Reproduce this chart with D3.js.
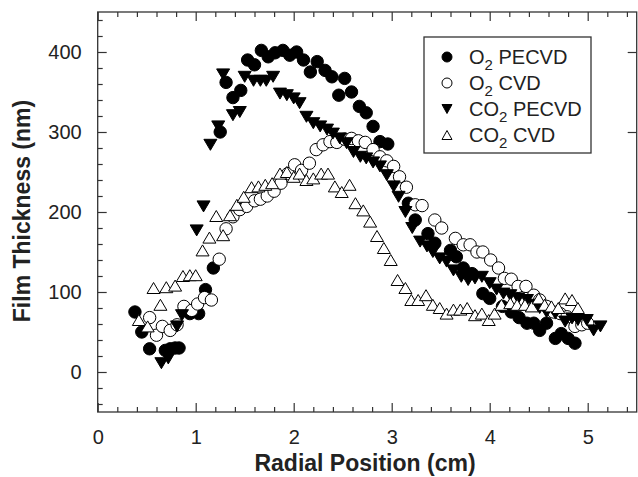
<!DOCTYPE html>
<html>
<head>
<meta charset="utf-8">
<script src="https://d3js.org/d3.v7.min.js"></script>
<style>
body { margin: 0; background: #fff; }
</style>
</head>
<body>
<svg id="chart" width="638" height="477"></svg>
<script>
// tick labels
const xTicks = [0, 1, 2, 3, 4, 5];
const yTicks = [0, 100, 200, 300, 400];

// legend names: [main, subscript, rest]
const seriesNames = [["O", "2", " PECVD"], ["O", "2", " CVD"], ["CO", "2", " PECVD"], ["CO", "2", " CVD"]];

// O2 PECVD (filled circles)
const o2PecvdX = [0.38,0.45,0.53,0.69,0.74,0.79,0.83,0.94,1.03,1.10,1.18,1.25,1.31,1.38,1.46,1.53,1.60,1.67,1.74,1.81,1.89,1.96,2.03,2.10,2.17,2.24,2.32,2.39,2.46,2.52,2.59,2.67,2.74,2.81,2.88,2.96,3.17,3.24,3.37,3.44,3.60,3.66,3.73,3.82,3.93,4.00,4.13,4.22,4.30,4.38,4.45,4.51,4.58,4.67,4.73,4.80,4.87];
const o2PecvdY = [75,50,29,27,29,30,30,73,73,103,130,300,362,343,352,390,384,402,394,399,402,396,400,390,375,388,377,369,346,367,350,332,324,307,288,285,211,190,173,161,152,144,130,123,98,92,82,75,68,61,61,52,61,42,48,42,36];

// O2 CVD (open circles)
const o2CvdX = [0.53,0.60,0.66,0.74,0.81,0.88,0.96,1.02,1.09,1.16,1.24,1.31,1.38,1.45,1.52,1.60,1.66,1.73,1.80,1.87,1.94,2.01,2.08,2.16,2.23,2.30,2.37,2.44,2.52,2.59,2.66,2.73,2.81,2.88,2.95,3.02,3.08,3.15,3.24,3.31,3.44,3.51,3.65,3.73,3.80,3.87,3.93,4.01,4.09,4.15,4.22,4.29,4.37,4.45,4.51,4.58,4.65,4.72,4.79,4.87,4.94,5.00];
const o2CvdY = [68,46,57,52,59,82,77,85,93,90,141,179,194,203,207,214,216,220,226,236,248,259,252,261,278,284,288,287,291,292,289,287,278,269,264,257,244,231,209,208,190,180,167,159,159,150,150,140,130,117,116,107,107,96,90,82,75,73,69,57,59,61];

// CO2 PECVD (filled down triangles)
const co2PecvdX = [0.65,0.72,0.81,0.86,1.01,1.08,1.15,1.23,1.28,1.38,1.45,1.50,1.59,1.66,1.72,1.79,1.86,1.93,2.00,2.06,2.13,2.20,2.27,2.34,2.40,2.47,2.54,2.61,2.68,2.74,2.81,2.88,2.95,3.02,3.07,3.14,3.21,3.29,3.36,3.42,3.49,3.56,3.63,3.71,3.78,3.85,3.92,4.00,4.07,4.14,4.21,4.29,4.38,4.45,4.51,4.58,4.67,4.77,4.84,4.90,4.99,5.06,5.13];
const co2PecvdY = [11,17,57,71,177,207,284,307,372,321,325,369,364,364,364,369,348,346,342,336,319,311,307,303,298,292,286,275,269,267,262,257,246,232,219,200,180,163,157,150,142,138,127,119,115,117,119,111,103,98,96,92,90,84,80,75,73,63,67,65,65,52,57];

// CO2 CVD (open up triangles)
const co2CvdX = [0.42,0.51,0.57,0.64,0.70,0.79,0.87,0.94,1.00,1.07,1.14,1.21,1.28,1.35,1.42,1.49,1.57,1.64,1.71,1.78,1.86,1.93,2.00,2.06,2.13,2.20,2.28,2.35,2.42,2.49,2.57,2.63,2.71,2.78,2.85,2.92,2.99,3.06,3.14,3.20,3.27,3.35,3.42,3.49,3.56,3.63,3.70,3.77,3.85,3.92,3.99,4.05,4.12,4.21,4.28,4.36,4.43,4.50,4.56,4.63,4.70,4.77,4.84,4.90];
const co2CvdY = [65,57,105,84,106,108,120,121,121,152,168,195,171,196,209,219,231,232,234,236,248,250,244,248,240,242,248,248,232,225,234,211,202,188,170,155,140,115,105,90,90,96,84,80,73,78,78,80,71,73,65,73,84,86,84,84,82,92,84,82,80,92,90,80];

const svg = d3.select('#chart');
const font = 'Arial, "Liberation Sans", sans-serif';

const xs = d3.scaleLinear().domain([0, 5.5]).range([97.7, 636.7]);
const ys = d3.scaleLinear().domain([-50, 450]).range([412, 12]);

const xMinor = d3.range(0.2, 5.5, 0.2).filter(d => Math.abs(d - Math.round(d)) > 0.01);
const yMinor = d3.range(-40, 450, 20).filter(d => d % 100 != 0);

function styleAxis(g) {
  g.select('.domain').remove();
  g.attr('font-family', font).attr('font-size', 20);
  g.selectAll('line').attr('stroke', '#333').attr('stroke-width', 1.2);
  g.selectAll('text').attr('fill', '#222');
}

// bottom
svg.append('g').attr('transform', 'translate(0,412)')
  .call(d3.axisBottom(xs).tickValues(xTicks).tickSize(-9).tickPadding(18).tickFormat(d3.format('d')))
  .call(styleAxis);
svg.append('g').attr('transform', 'translate(0,412)')
  .call(d3.axisBottom(xs).tickValues(xMinor).tickSize(-5).tickFormat(''))
  .call(styleAxis);
// top
svg.append('g').attr('transform', 'translate(0,12)')
  .call(d3.axisTop(xs).tickValues(xTicks).tickSize(-9).tickFormat(''))
  .call(styleAxis);
svg.append('g').attr('transform', 'translate(0,12)')
  .call(d3.axisTop(xs).tickValues(xMinor).tickSize(-5).tickFormat(''))
  .call(styleAxis);
// left
svg.append('g').attr('transform', 'translate(97.7,0)')
  .call(d3.axisLeft(ys).tickValues(yTicks).tickSize(-9).tickPadding(16).tickFormat(d3.format('d')))
  .call(styleAxis);
svg.append('g').attr('transform', 'translate(97.7,0)')
  .call(d3.axisLeft(ys).tickValues(yMinor).tickSize(-5).tickFormat(''))
  .call(styleAxis);
// right, majors only
svg.append('g').attr('transform', 'translate(636.7,0)')
  .call(d3.axisRight(ys).tickValues(yTicks).tickSize(-9).tickFormat(''))
  .call(styleAxis);

// frame
svg.append('rect')
  .attr('x', 97.7).attr('y', 12)
  .attr('width', 539).attr('height', 400)
  .attr('fill', 'none').attr('stroke', '#333').attr('stroke-width', 1.3);

// axis titles
svg.append('text')
  .attr('x', 365).attr('y', 471)
  .attr('text-anchor', 'middle')
  .attr('font-family', font).attr('font-size', 23).attr('font-weight', 'bold').attr('fill', '#222')
  .text('Radial Position (cm)');

svg.append('text')
  .attr('transform', 'translate(30,211) rotate(-90)')
  .attr('text-anchor', 'middle')
  .attr('font-family', font).attr('font-size', 23).attr('font-weight', 'bold').attr('fill', '#222')
  .text('Film Thickness (nm)');

// markers
function triPath(cx, cy, w, h, down) {
  const s = down ? 1 : -1;
  return 'M' + (cx - w / 2) + ',' + (cy - s * h / 2) +
          'L' + (cx + w / 2) + ',' + (cy - s * h / 2) +
          'L' + cx + ',' + (cy + s * h / 2) + 'Z';
}

const series = [
  {xv: o2PecvdX, yv: o2PecvdY, shape: 'circle', fill: 'black'},
  {xv: o2CvdX, yv: o2CvdY, shape: 'circle', fill: 'white'},
  {xv: co2PecvdX, yv: co2PecvdY, shape: 'down', fill: 'black'},
  {xv: co2CvdX, yv: co2CvdY, shape: 'up', fill: 'white'}
];

series.forEach(function (s) {
  const pts = s.xv.map((v, i) => ({x: v, y: s.yv[i]}));
  const g = svg.append('g');
  if (s.shape == 'circle') {
    g.selectAll('circle').data(pts).enter().append('circle')
      .attr('cx', d => xs(d.x)).attr('cy', d => ys(d.y)).attr('r', 6.2)
      .attr('fill', s.fill).attr('stroke', 'black').attr('stroke-width', 1);
  } else {
    g.selectAll('path').data(pts).enter().append('path')
      .attr('d', d => triPath(xs(d.x), ys(d.y), 13, 11, s.shape == 'down'))
      .attr('fill', s.fill).attr('stroke', 'black').attr('stroke-width', 1);
  }
});

// legend
svg.append('rect')
  .attr('x', 424).attr('y', 37).attr('width', 167).attr('height', 116)
  .attr('fill', 'white').attr('stroke', '#333').attr('stroke-width', 1.3);

const legRows = [57, 83, 109, 135];
series.forEach(function (s, i) {
  const cy = legRows[i];
  if (s.shape == 'circle') {
    svg.append('circle').attr('cx', 447).attr('cy', cy).attr('r', 5)
      .attr('fill', s.fill).attr('stroke', 'black').attr('stroke-width', 1);
  } else {
    svg.append('path').attr('d', triPath(447, cy, 10, 9, s.shape == 'down'))
      .attr('fill', s.fill).attr('stroke', 'black').attr('stroke-width', 1);
  }
  const t = svg.append('text')
    .attr('x', 469).attr('y', cy + 7)
    .attr('font-family', font).attr('font-size', 20).attr('fill', '#222');
  t.append('tspan').text(seriesNames[i][0]);
  t.append('tspan').attr('font-size', 15).attr('dy', 6).text(seriesNames[i][1]);
  t.append('tspan').attr('dy', -6).text(seriesNames[i][2]);
});
</script>
</body>
</html>
